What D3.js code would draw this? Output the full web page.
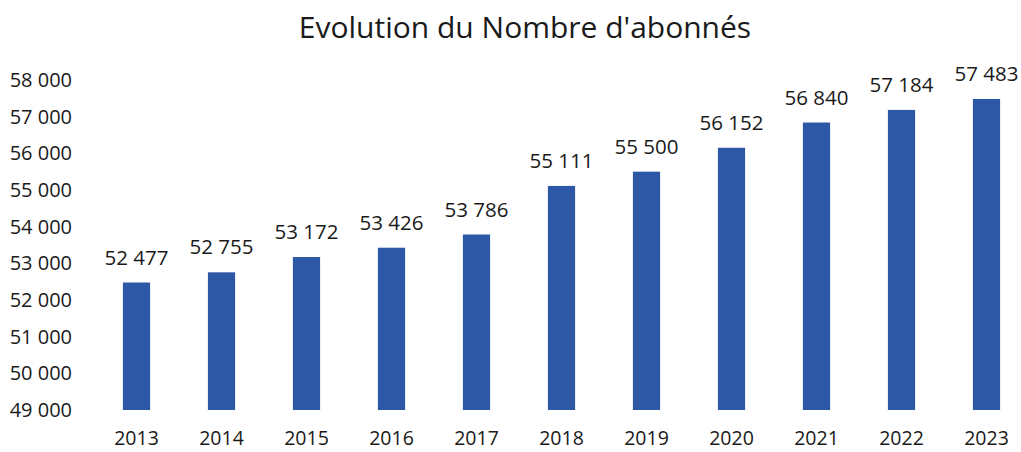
<!DOCTYPE html>
<html>
<head>
<meta charset="utf-8">
<script src="https://cdn.jsdelivr.net/npm/d3@7"></script>
<style>
  body { margin: 0; background: #fff; }
  text { font-family: "Open Sans", Lato, sans-serif; fill: #1a1a1a; }
</style>
</head>
<body>
<svg id="chart" width="1021" height="452"></svg>
<script>
// data
const years = ['2013', '2014', '2015', '2016', '2017', '2018', '2019', '2020', '2021', '2022', '2023'];
const subscribers = [52477, 52755, 53172, 53426, 53786, 55111, 55500, 56152, 56840, 57184, 57483];
const yTicks = [49000, 50000, 51000, 52000, 53000, 54000, 55000, 56000, 57000, 58000];

const svg = d3.select('#chart');
const fmt = v => d3.format(',')(v).replace(/,/g, ' ');

const x = d3.scaleBand()
  .domain(years)
  .range([94, 1029])
  .paddingInner(0.68)
  .paddingOuter(0.34);

const y = d3.scaleLinear()
  .domain([49000, 58000])
  .range([410, 80]);

// title
svg.append('text')
  .attr('x', 525)
  .attr('y', 38)
  .attr('text-anchor', 'middle')
  .style('font-size', '30px')
  .text("Evolution du Nombre d'abonnés");

// y axis labels (no line, no ticks)
const yAxis = svg.append('g')
  .attr('transform', 'translate(72,0)')
  .call(d3.axisLeft(y).tickValues(yTicks).tickFormat(fmt).tickSize(0).tickPadding(0));
yAxis.select('.domain').remove();
yAxis.selectAll('text').style('font-size', '20px').attr('fill', '#1a1a1a');

// x axis labels
const xAxis = svg.append('g')
  .attr('transform', 'translate(0,431)')
  .call(d3.axisBottom(x).tickSize(0).tickPadding(0));
xAxis.select('.domain').remove();
xAxis.selectAll('text').style('font-size', '19.5px').attr('fill', '#1a1a1a');

// bars
svg.selectAll('rect.bar')
  .data(subscribers)
  .enter()
  .append('rect')
  .attr('class', 'bar')
  .attr('x', (d, i) => x(years[i]))
  .attr('y', d => y(d))
  .attr('width', x.bandwidth())
  .attr('height', d => y(49000) - y(d))
  .attr('fill', '#2c58a6');

// value labels
svg.selectAll('text.val')
  .data(subscribers)
  .enter()
  .append('text')
  .attr('class', 'val')
  .attr('x', (d, i) => x(years[i]) + x.bandwidth() / 2)
  .attr('y', d => y(d) - 18)
  .attr('text-anchor', 'middle')
  .style('font-size', '20.5px')
  .text(fmt);
</script>
</body>
</html>
